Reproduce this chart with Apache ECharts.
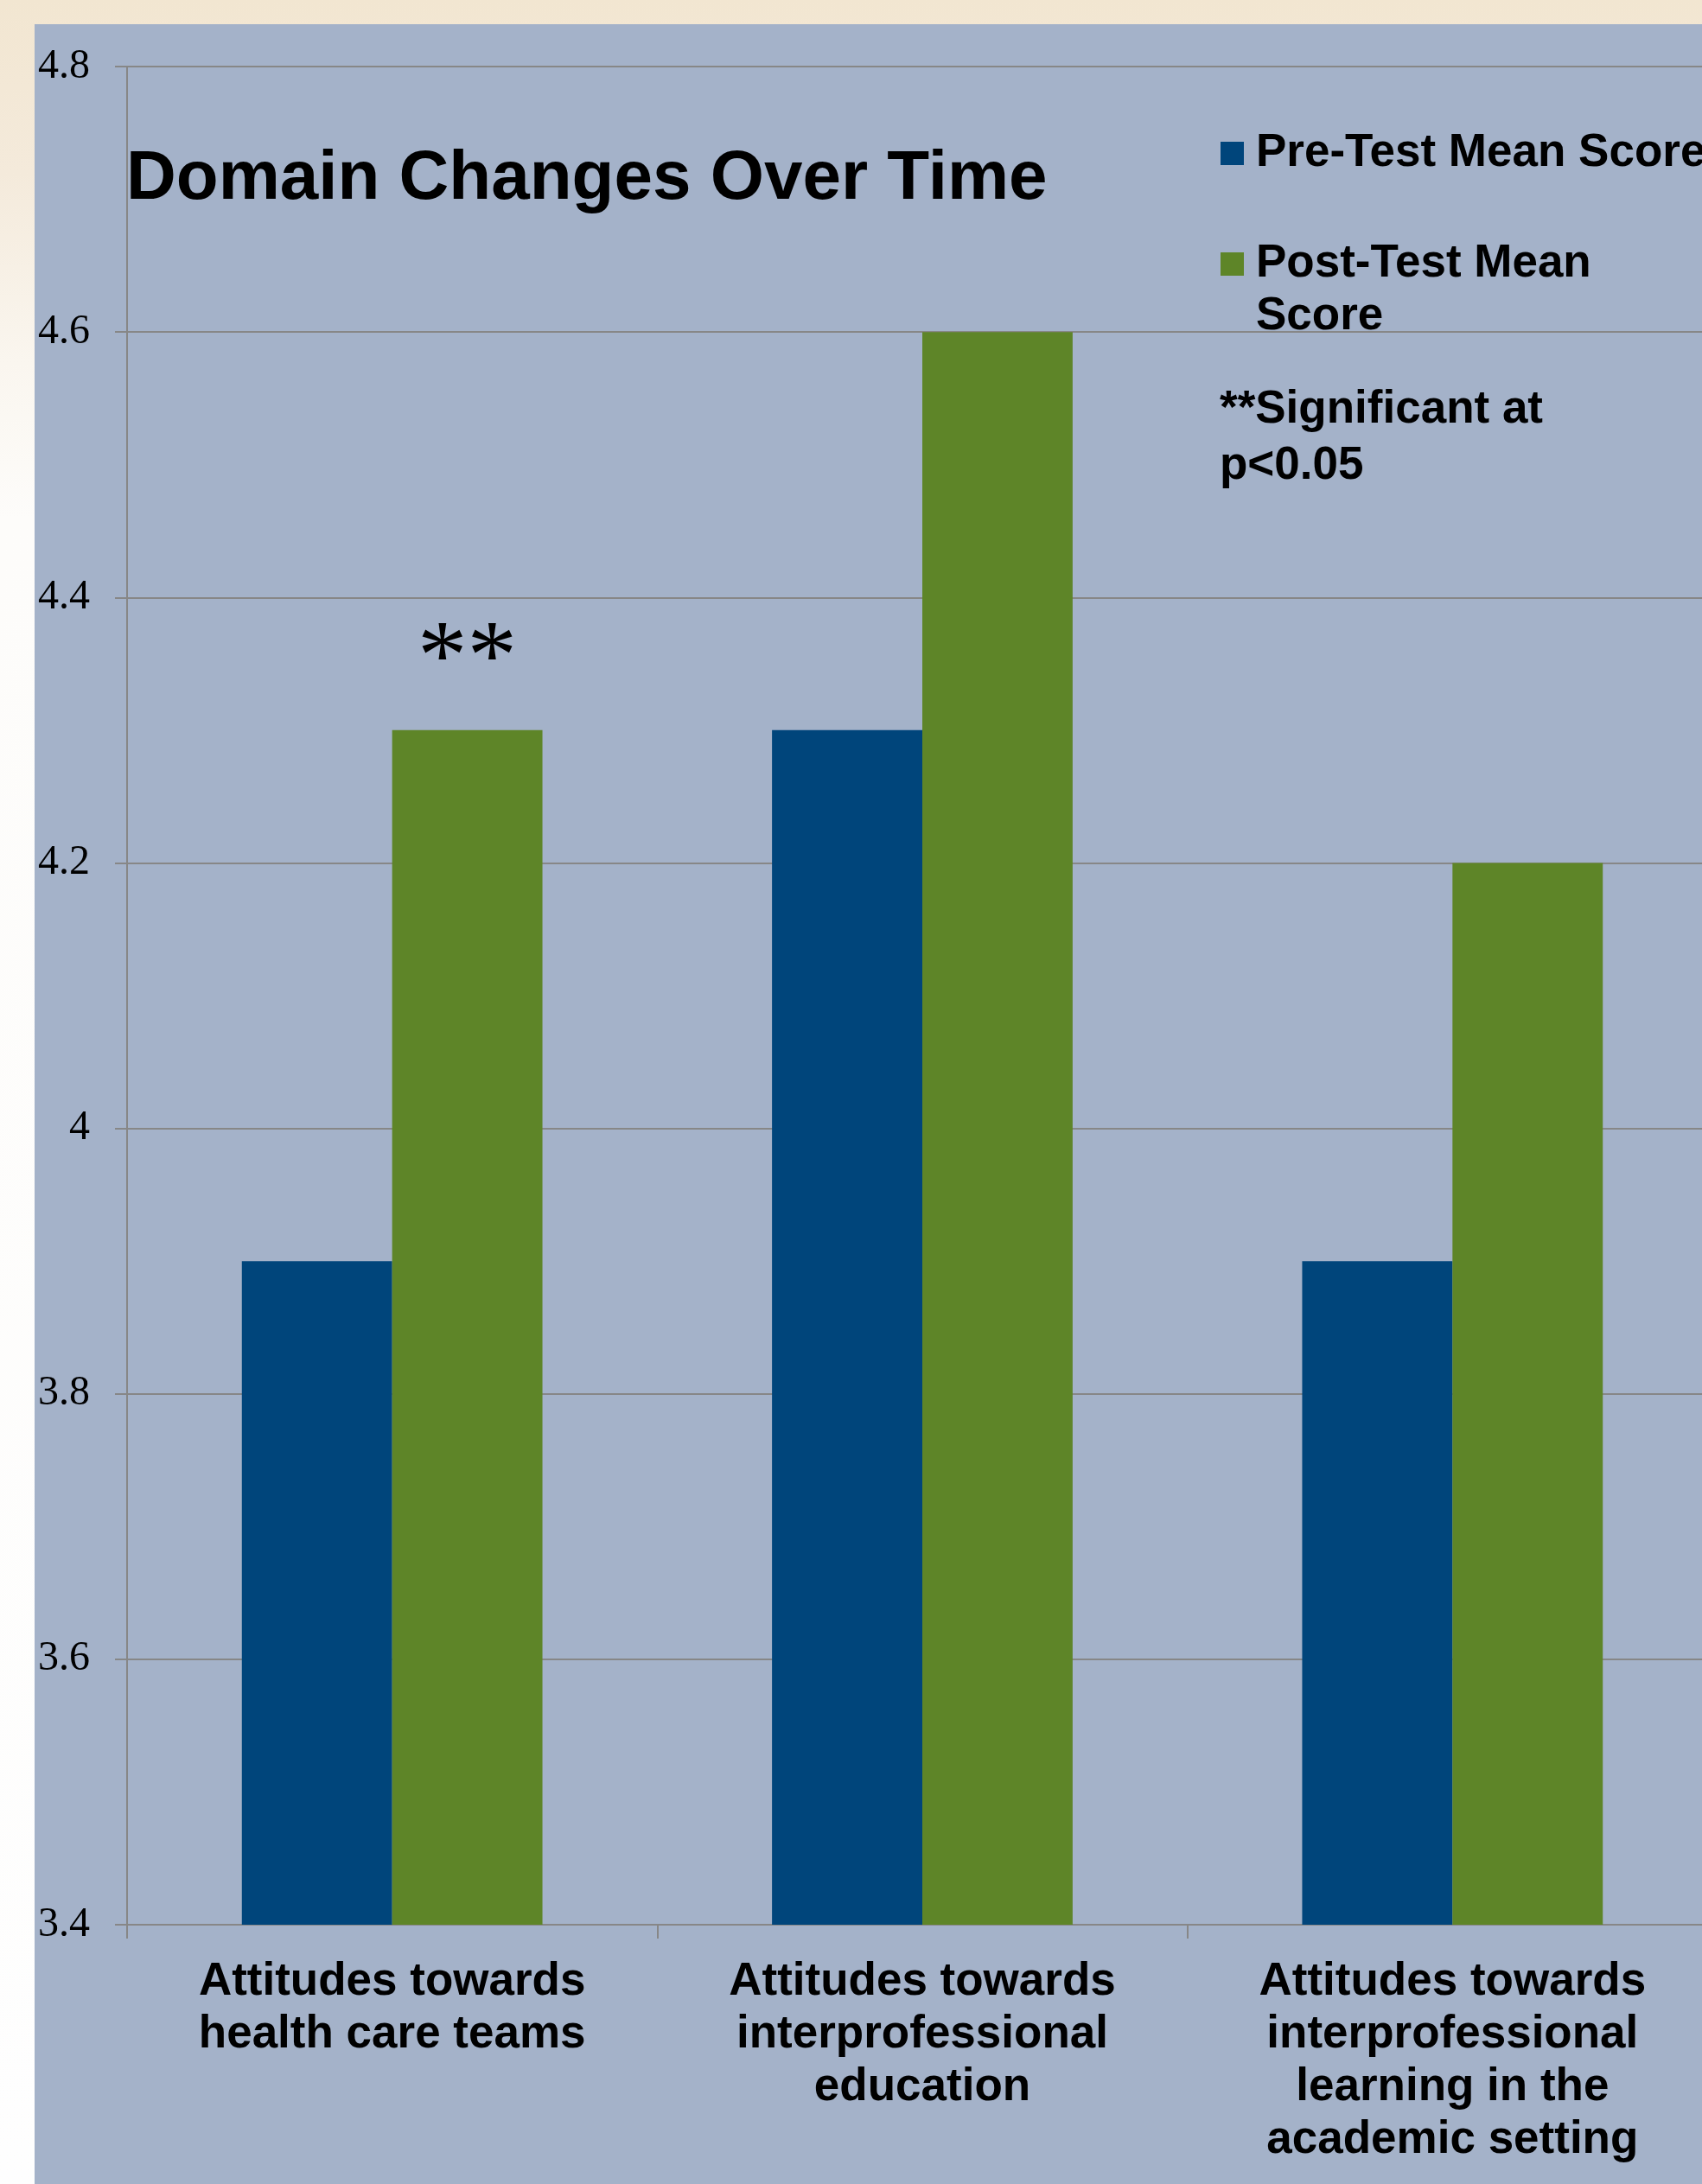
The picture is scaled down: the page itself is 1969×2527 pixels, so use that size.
<!DOCTYPE html>
<html>
<head>
<meta charset="utf-8">
<script src="https://cdn.jsdelivr.net/npm/echarts@6/dist/echarts.min.js"></script>
<style>
  html, body { margin: 0; padding: 0; width: 1969px; height: 2527px; overflow: hidden; }
  body { background: linear-gradient(to bottom, #f2e6d1 0px, #f4eadb 200px, #faf6ef 420px, #fdfcfa 600px, #fefefe 2527px); }
  #chart { position: absolute; left: 40px; top: 28px; width: 1929px; height: 2499px; background: #a4b2c9; }
</style>
</head>
<body>
<div id="chart"></div>
<script>
// ---- data ----
const categories = [
  'Attitudes towards\nhealth care teams',
  'Attitudes towards\ninterprofessional\neducation',
  'Attitudes towards\ninterprofessional\nlearning in the\nacademic setting'
];
const seriesNames = ['Pre-Test Mean Score', 'Post-Test Mean Score'];
const legendLabels = ['Pre-Test Mean Score', '\nPost-Test Mean\nScore'];
const preTest = [3.9, 4.3, 3.9];
const postTest = [4.3, 4.6, 4.2];
const significance = ['**', '', ''];
const yTicks = { min: 3.4, max: 4.8, step: 0.2 };
const titleText = 'Domain Changes Over Time';
const noteText = '**Significant at\np<0.05';

const SANS = 'Liberation Sans, Arial, sans-serif';
const SERIF = 'Liberation Serif, Times New Roman, serif';

const chart = echarts.init(document.getElementById('chart'), null, { renderer: 'canvas' });

const legendText = {
  fontFamily: SANS, fontSize: 53, fontWeight: 'bold', color: '#000', lineHeight: 61,
  padding: [0, 0, 0, 9]
};

chart.setOption({
  backgroundColor: 'transparent',
  animation: false,
  title: [
    {
      text: titleText, left: 106, top: 140, padding: 0,
      textStyle: { fontFamily: SANS, fontSize: 80, fontWeight: 'bold', color: '#000', lineHeight: 80 }
    },
    {
      text: noteText, left: 1371, top: 414, padding: 0,
      textStyle: { fontFamily: SANS, fontSize: 53, fontWeight: 'bold', color: '#000', lineHeight: 65 }
    }
  ],
  legend: [
    {
      data: [seriesNames[0]], orient: 'vertical', left: 1372, top: 119, padding: 0,
      itemWidth: 27, itemHeight: 27, icon: 'rect', selectedMode: false,
      formatter: n => legendLabels[seriesNames.indexOf(n)],
      textStyle: legendText
    },
    {
      data: [seriesNames[1]], orient: 'vertical', left: 1372, top: 186, padding: 0,
      itemWidth: 27, itemHeight: 27, icon: 'rect', selectedMode: false,
      formatter: n => legendLabels[seriesNames.indexOf(n)],
      textStyle: legendText
    }
  ],
  grid: {
    left: 107, top: 49, right: -18, bottom: 300,
    containLabel: false, outerBoundsMode: 'none'
  },
  xAxis: {
    type: 'category',
    data: categories,
    axisLine: { show: true, lineStyle: { color: '#878787', width: 2 } },
    axisTick: { show: true, length: 16, inside: false, alignWithLabel: false, lineStyle: { color: '#878787', width: 2 } },
    axisLabel: {
      interval: 0, margin: 36, color: '#000',
      fontFamily: SANS, fontSize: 53, fontWeight: 'bold', lineHeight: 61, align: 'center'
    },
    splitLine: { show: false }
  },
  yAxis: {
    type: 'value',
    min: yTicks.min, max: yTicks.max, interval: yTicks.step,
    axisLine: { show: true, lineStyle: { color: '#878787', width: 2 } },
    axisTick: { show: true, length: 14, inside: false, lineStyle: { color: '#878787', width: 2 } },
    axisLabel: { margin: 43, color: '#000', fontFamily: SERIF, fontSize: 48, align: 'right' },
    splitLine: { show: true, lineStyle: { color: '#878787', width: 2 } }
  },
  series: [
    {
      name: seriesNames[0], type: 'bar', data: preTest,
      barGap: '0%', barCategoryGap: '43.3%',
      itemStyle: { color: '#00457b' }
    },
    {
      name: seriesNames[1], type: 'bar', data: postTest,
      barGap: '0%', barCategoryGap: '43.3%',
      itemStyle: { color: '#5e8528' },
      label: {
        show: true, position: 'top', distance: 22,
        formatter: p => significance[p.dataIndex],
        fontFamily: SERIF, fontSize: 115, color: '#000', lineHeight: 115
      }
    }
  ]
});
</script>
</body>
</html>
